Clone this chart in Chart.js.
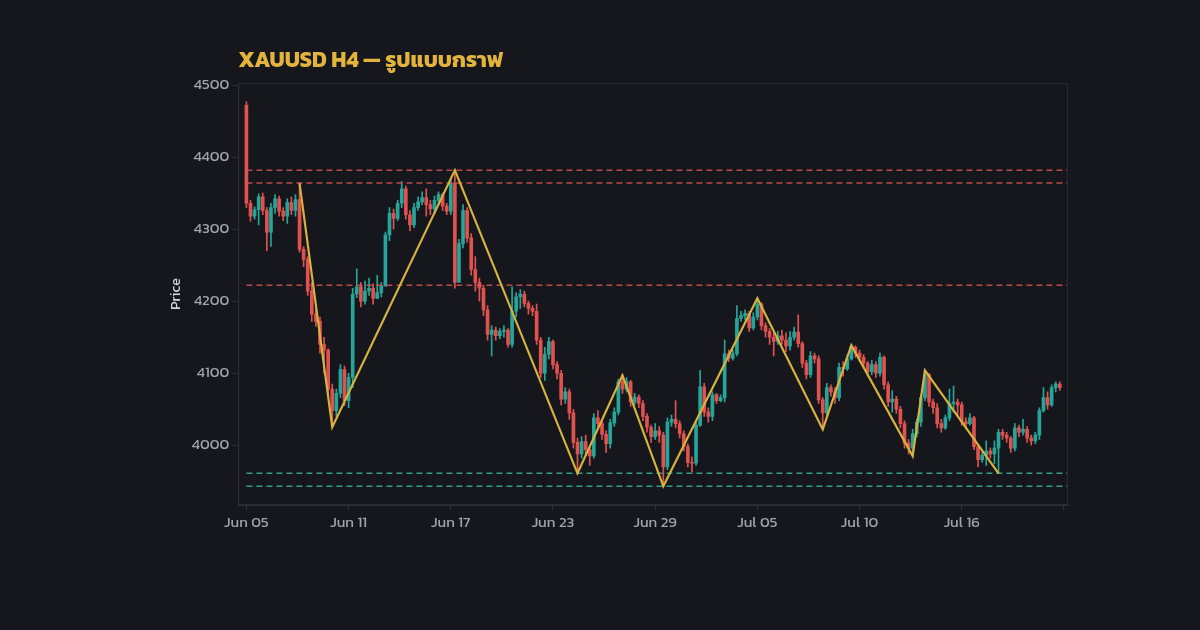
<!DOCTYPE html>
<html>
<head>
<meta charset="utf-8">
<script src="https://cdn.jsdelivr.net/npm/chart.js@4.4.1/dist/chart.umd.min.js"></script>
<style>
  html, body { margin: 0; padding: 0; background: #15171c; }
  #wrap { width: 1200px; height: 630px; }
</style>
</head>
<body>
<div id="wrap"><canvas id="chart" width="1200" height="630"></canvas></div>
<script>
// DATA (H4 candles, index 0 = Jun 05)
const firstOpen = 4472;
const closes = [
  4336, 4318, 4327, 4345, 4326, 4296, 4330, 4342, 4325, 4318,
  4337, 4326, 4341, 4272, 4258, 4214, 4182, 4172, 4140, 4132,
  4078, 4048, 4072, 4105, 4062, 4094, 4210, 4220, 4200, 4214,
  4218, 4204, 4212, 4221, 4292, 4322, 4315, 4336, 4356, 4320,
  4306, 4330, 4338, 4344, 4334, 4328, 4340, 4348, 4332, 4325,
  4364, 4226, 4280, 4326, 4288, 4244, 4226, 4218, 4188, 4154,
  4160, 4152, 4158, 4160, 4140, 4186, 4206, 4210, 4197, 4190,
  4186, 4146, 4100, 4126, 4144, 4112, 4100, 4064, 4074, 4045,
  4004, 3988, 4005, 3994, 3985, 4038, 4030, 4015, 4002, 4031,
  4046, 4088, 4078, 4088, 4060, 4067, 4058, 4040, 4025, 4012,
  4020, 4014, 3970, 4032, 4036, 4030, 4016, 3998, 3976, 3975,
  4028, 4081, 4046, 4040, 4070, 4062, 4066, 4127, 4121, 4127,
  4176, 4180, 4183, 4163, 4178, 4196, 4166, 4158, 4150, 4144,
  4152, 4146, 4138, 4150, 4157, 4141, 4114, 4098, 4124, 4120,
  4063, 4045, 4080, 4074, 4066, 4108, 4106, 4120, 4136, 4128,
  4122, 4114, 4102, 4112, 4100, 4122, 4084, 4060, 4064, 4050,
  4030, 4003, 3996, 4016, 4032, 4066, 4098, 4060, 4052, 4030,
  4024, 4038, 4058, 4060, 4056, 4033, 4030, 4038, 3998, 3980,
  3986, 3992, 3988, 3996, 4018, 4014, 4010, 3996, 4024, 4018,
  4022, 4010, 4006, 4014, 4048, 4066, 4056, 4080, 4085, 4080
];
const highs = [
  4477, 4340, 4331, 4349, 4350, 4330, 4336, 4348, 4346, 4330,
  4342, 4345, 4348, 4364, 4276, 4262, 4226, 4190, 4178, 4150,
  4134, 4085, 4078, 4112, 4110, 4100, 4218, 4245, 4226, 4228,
  4232, 4224, 4236, 4226, 4296, 4330, 4328, 4340, 4366, 4360,
  4326, 4336, 4345, 4352, 4356, 4340, 4346, 4352, 4350, 4336,
  4370, 4382, 4286, 4334, 4330, 4294, 4262, 4232, 4222, 4194,
  4166, 4164, 4162, 4166, 4162, 4220, 4212, 4216, 4214, 4200,
  4194, 4196, 4150, 4136, 4150, 4146, 4116, 4104, 4080, 4078,
  4050, 4010, 4012, 4014, 3998, 4044, 4048, 4036, 4020, 4036,
  4052, 4092, 4097, 4094, 4090, 4072, 4070, 4062, 4044, 4028,
  4030, 4026, 4018, 4038, 4042, 4062, 4034, 4020, 4002, 3984,
  4034, 4104, 4086, 4052, 4074, 4072, 4070, 4146, 4132, 4132,
  4194, 4186, 4188, 4186, 4184, 4204, 4198, 4170, 4162, 4156,
  4158, 4160, 4156, 4158, 4164, 4181, 4144, 4118, 4130, 4128,
  4124, 4066, 4086, 4084, 4080, 4114, 4116, 4126, 4139, 4138,
  4132, 4126, 4116, 4118, 4116, 4128, 4124, 4088, 4076, 4068,
  4054, 4034, 4008, 4022, 4036, 4070, 4104, 4100, 4064, 4058,
  4036, 4042, 4078, 4082, 4064, 4060, 4038, 4044, 4040, 4000,
  3990, 4006, 3996, 4006, 4022, 4022, 4018, 4012, 4030, 4028,
  4036, 4026, 4014, 4018, 4052, 4080, 4074, 4084, 4088, 4088
];
const lows = [
  4330, 4311, 4314, 4306, 4320, 4270, 4276, 4322, 4318, 4312,
  4308, 4320, 4318, 4268, 4248, 4208, 4172, 4165, 4128, 4100,
  4070, 4025, 4040, 4066, 4055, 4052, 4080, 4205, 4192, 4196,
  4208, 4196, 4204, 4206, 4266, 4284, 4300, 4312, 4330, 4314,
  4298, 4302, 4326, 4334, 4318, 4320, 4322, 4334, 4326, 4320,
  4320, 4218, 4232, 4274, 4282, 4236, 4214, 4200, 4180, 4146,
  4124, 4146, 4148, 4150, 4136, 4136, 4178, 4190, 4192, 4182,
  4180, 4140, 4094, 4090, 4120, 4106, 4092, 4056, 4058, 4036,
  3996, 3961, 3982, 3986, 3972, 3982, 4022, 4008, 3990, 3996,
  4026, 4042, 4072, 4074, 4054, 4056, 4052, 4034, 4018, 4004,
  4008, 4004, 3943, 3966, 4026, 4024, 4010, 3992, 3970, 3963,
  3972, 4026, 4040, 4032, 4034, 4058, 4060, 4060, 4116, 4118,
  4124, 4172, 4174, 4158, 4160, 4174, 4160, 4150, 4140, 4124,
  4140, 4140, 4130, 4132, 4146, 4136, 4108, 4092, 4094, 4114,
  4058, 4022, 4040, 4068, 4058, 4062, 4096, 4104, 4118, 4122,
  4116, 4108, 4096, 4098, 4094, 4096, 4078, 4054, 4046, 4044,
  4024, 3996, 3988, 3985, 4012, 4026, 4062, 4054, 4044, 4024,
  4018, 4022, 4034, 4046, 4040, 4028, 4024, 4028, 3994, 3970,
  3976, 3972, 3982, 3974, 3961, 4008, 4004, 3990, 3992, 4012,
  4014, 4004, 4000, 4002, 4008, 4046, 4050, 4054, 4074, 4076
];

// zigzag pivots (candle index, price)
const zigIdx = [13, 21, 51, 81, 92, 102, 125, 141, 148, 163, 166, 184];
const zigPrice = [4364, 4025, 4382, 3961, 4097, 3943, 4204, 4022, 4139, 3985, 4104, 3961];

// support / resistance levels
const resistLevels = [4382, 4364, 4222];
const supportLevels = [3961, 3943];

// axis ticks
const xTickIdx = [0, 25, 50, 75, 100, 125, 150, 175, 200];
const xTickLabels = ["Jun 05", "Jun 11", "Jun 17", "Jun 23", "Jun 29", "Jul 05", "Jul 10", "Jul 16", ""];
const yTicks = [4000, 4100, 4200, 4300, 4400, 4500];

const UP = "#26a69a", DOWN = "#e0524f";
const FONT = "'Kanit', 'Prompt', 'Noto Sans Thai', 'Noto Sans', 'DejaVu Sans', sans-serif";

const opens = closes.map((c, i) => (i === 0 ? firstOpen : closes[i - 1]));
const candleColor = closes.map((c, i) => (c >= opens[i] ? UP : DOWN));

const bodies = closes.map((c, i) => ({ x: i, y: [opens[i], c] }));
const wicks = closes.map((c, i) => ({ x: i, y: [lows[i], highs[i]] }));
const zigzag = zigIdx.map((x, k) => ({ x: x, y: zigPrice[k] }));

function levelSet(levels, color) {
  return levels.map((lvl) => ({
    type: "line",
    data: [{ x: 0, y: lvl }, { x: 201, y: lvl }],
    borderColor: color,
    borderWidth: 1.5,
    borderDash: [6, 4],
    pointRadius: 0,
    order: 2,
  }));
}

// background, plot frame and title
const framePlugin = {
  id: "frame",
  beforeDraw(chart) {
    const ctx = chart.ctx;
    ctx.save();
    ctx.fillStyle = "#15171c";
    ctx.fillRect(0, 0, chart.width, chart.height);
    ctx.restore();
  },
  afterDraw(chart) {
    const { ctx, chartArea } = chart;
    ctx.save();
    ctx.strokeStyle = "#262b36";
    ctx.lineWidth = 1;
    ctx.strokeRect(chartArea.left + 0.5, chartArea.top + 0.5, chartArea.width - 1, chartArea.height - 1);
    ctx.fillStyle = "#e2b43e";
    ctx.font = "bold 22px " + FONT;
    ctx.textBaseline = "alphabetic";
    ctx.fillText("XAUUSD H4 — รูปแบบกราฟ", chartArea.left, 67);
    ctx.restore();
  },
};

new Chart(document.getElementById("chart"), {
  data: {
    datasets: [
      {
        type: "bar",
        data: wicks,
        backgroundColor: candleColor,
        barThickness: 1,
        grouped: false,
        order: 5,
      },
      {
        type: "bar",
        data: bodies,
        backgroundColor: candleColor,
        barThickness: 3,
        minBarLength: 1,
        grouped: false,
        order: 4,
      },
      ...levelSet(resistLevels, "rgba(214,84,82,0.85)"),
      ...levelSet(supportLevels, "rgba(58,170,150,0.9)"),
      {
        type: "line",
        data: zigzag,
        borderColor: "#d6b23e",
        borderWidth: 2.2,
        pointRadius: 0,
        tension: 0,
        order: 1,
      },
    ],
  },
  options: {
    responsive: false,
    animation: false,
    layout: { padding: { left: 164, right: 132, top: 83, bottom: 95 } },
    plugins: { legend: { display: false }, tooltip: { enabled: false }, title: { display: false } },
    scales: {
      x: {
        type: "linear",
        min: -2,
        max: 201,
        offset: false,
        afterBuildTicks: (scale) => {
          scale.ticks = xTickIdx.map((v) => ({ value: v }));
        },
        ticks: {
          autoSkip: false,
          maxRotation: 0,
          color: "#9ea3ad",
          font: { family: FONT, size: 15 },
          callback: (v, i) => xTickLabels[i],
        },
        grid: { display: true, offset: false, drawOnChartArea: false, color: "#2b303b", tickLength: 6 },
        border: { color: "#2b303b" },
      },
      y: {
        type: "linear",
        min: 3917,
        max: 4503,
        afterBuildTicks: (scale) => {
          scale.ticks = yTicks.map((v) => ({ value: v }));
        },
        ticks: {
          color: "#9ea3ad",
          font: { family: FONT, size: 15 },
          callback: (v) => String(v),
        },
        title: { display: true, text: "Price", color: "#d2d6dd", font: { family: FONT, size: 14 } },
        grid: { display: true, drawOnChartArea: false, color: "#2b303b", tickLength: 6 },
        border: { color: "#2b303b" },
      },
    },
  },
  plugins: [framePlugin],
});
</script>
</body>
</html>
